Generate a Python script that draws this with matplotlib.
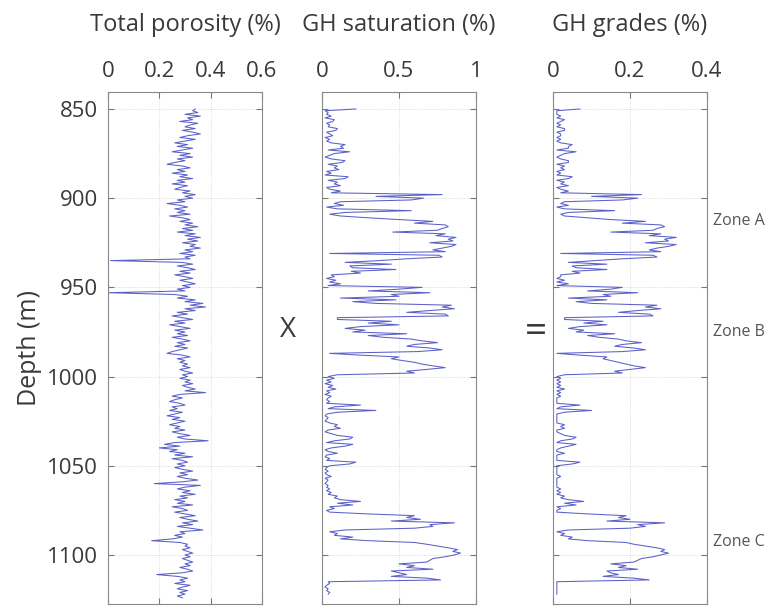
import numpy as np
import matplotlib.pyplot as plt

plt.rcParams['font.family'] = ['Open Sans', 'DejaVu Sans']

# porosity log, 1 m samples from 850 m
por_top = 850
porosity = [
    0.34, 0.33, 0.35, 0.30, 0.36, 0.31, 0.33, 0.28, 0.35, 0.32,
    0.30, 0.34, 0.29, 0.33, 0.36, 0.31, 0.28, 0.34, 0.30, 0.26,
    0.31, 0.27, 0.33, 0.29, 0.25, 0.32, 0.28, 0.33, 0.27, 0.30,
    0.26, 0.23, 0.29, 0.32, 0.27, 0.30, 0.25, 0.31, 0.28, 0.33,
    0.27, 0.30, 0.25, 0.31, 0.28, 0.26, 0.32, 0.29, 0.34, 0.30,
    0.33, 0.27, 0.30, 0.23, 0.28, 0.31, 0.26, 0.30, 0.27, 0.32,
    0.24, 0.29, 0.32, 0.28, 0.33, 0.30, 0.35, 0.29, 0.33, 0.27,
    0.34, 0.30, 0.36, 0.31, 0.35, 0.29, 0.34, 0.32, 0.36, 0.30,
    0.33, 0.28, 0.34, 0.30, 0.32, 0.01, 0.29, 0.33, 0.27, 0.31,
    0.34, 0.28, 0.32, 0.26, 0.30, 0.33, 0.28, 0.31, 0.34, 0.29,
    0.32, 0.27, 0.30, 0.00, 0.26, 0.31, 0.27, 0.34, 0.30, 0.37,
    0.32, 0.38, 0.30, 0.34, 0.27, 0.31, 0.25, 0.29, 0.33, 0.26,
    0.30, 0.24, 0.28, 0.32, 0.26, 0.30, 0.27, 0.31, 0.25, 0.29,
    0.32, 0.27, 0.30, 0.26, 0.31, 0.28, 0.25, 0.23, 0.29, 0.32,
    0.27, 0.30, 0.28, 0.31, 0.29, 0.32, 0.28, 0.30, 0.33, 0.29,
    0.31, 0.28, 0.32, 0.30, 0.33, 0.29, 0.31, 0.34, 0.30, 0.38,
    0.28, 0.25, 0.29, 0.26, 0.24, 0.28, 0.30, 0.25, 0.27, 0.24,
    0.29, 0.26, 0.23, 0.28, 0.25, 0.30, 0.27, 0.24, 0.28, 0.26,
    0.30, 0.25, 0.28, 0.32, 0.27, 0.30, 0.39, 0.26, 0.22, 0.28,
    0.20, 0.27, 0.24, 0.30, 0.26, 0.33, 0.25, 0.29, 0.31, 0.27,
    0.30, 0.26, 0.29, 0.33, 0.28, 0.31, 0.27, 0.30, 0.35, 0.29,
    0.18, 0.36, 0.30, 0.27, 0.32, 0.29, 0.34, 0.28, 0.31, 0.26,
    0.30, 0.27, 0.33, 0.25, 0.29, 0.31, 0.26, 0.30, 0.34, 0.28,
    0.31, 0.35, 0.29, 0.33, 0.27, 0.32, 0.37, 0.28, 0.30, 0.26,
    0.29, 0.25, 0.17, 0.28, 0.31, 0.30, 0.32, 0.29, 0.31, 0.33,
    0.30, 0.32, 0.29, 0.31, 0.33, 0.30, 0.32, 0.28, 0.31, 0.33,
    0.29, 0.19, 0.27, 0.31, 0.28, 0.30, 0.26, 0.32, 0.29, 0.27,
    0.31, 0.28, 0.30, 0.27, 0.29,
]

# GH saturation, 1 m samples from 850 m
sat_top = 850
saturation = [
    0.22, 0.02, 0.04, 0.03, 0.06, 0.02, 0.08, 0.07, 0.03, 0.05,
    0.04, 0.10, 0.09, 0.03, 0.05, 0.07, 0.02, 0.05, 0.03, 0.06,
    0.15, 0.12, 0.14, 0.04, 0.18, 0.08, 0.05, 0.02, 0.06, 0.15,
    0.13, 0.04, 0.10, 0.08, 0.11, 0.03, 0.06, 0.02, 0.17, 0.15,
    0.04, 0.10, 0.08, 0.12, 0.03, 0.05, 0.12, 0.06, 0.78, 0.35,
    0.66, 0.58, 0.12, 0.08, 0.14, 0.03, 0.10, 0.58, 0.15, 0.05,
    0.12, 0.30, 0.50, 0.72, 0.60, 0.80, 0.82, 0.78, 0.75, 0.46,
    0.80, 0.74, 0.87, 0.82, 0.85, 0.70, 0.87, 0.84, 0.78, 0.72,
    0.80, 0.05, 0.76, 0.78, 0.55, 0.37, 0.15, 0.45, 0.18, 0.20,
    0.48, 0.19, 0.25, 0.06, 0.08, 0.03, 0.09, 0.05, 0.12, 0.04,
    0.65, 0.50, 0.30, 0.70, 0.45, 0.50, 0.12, 0.48, 0.20, 0.35,
    0.84, 0.78, 0.86, 0.70, 0.55, 0.80, 0.82, 0.10, 0.10, 0.45,
    0.30, 0.50, 0.25, 0.15, 0.28, 0.20, 0.55, 0.30, 0.40, 0.58,
    0.65, 0.75, 0.60, 0.55, 0.70, 0.78, 0.62, 0.05, 0.25, 0.50,
    0.45, 0.52, 0.60, 0.65, 0.72, 0.80, 0.68, 0.55, 0.60, 0.10,
    0.04, 0.08, 0.03, 0.06, 0.02, 0.07, 0.04, 0.09, 0.03, 0.05,
    0.02, 0.06, 0.04, 0.03, 0.05, 0.03, 0.25, 0.08, 0.04, 0.35,
    0.10, 0.03, 0.02, 0.04, 0.03, 0.02, 0.05, 0.10, 0.08, 0.12,
    0.04, 0.02, 0.06, 0.10, 0.20, 0.18, 0.08, 0.03, 0.20, 0.15,
    0.06, 0.02, 0.04, 0.10, 0.03, 0.02, 0.05, 0.03, 0.22, 0.18,
    0.05, 0.03, 0.02, 0.04, 0.02, 0.03, 0.06, 0.02, 0.04, 0.03,
    0.02, 0.04, 0.03, 0.05, 0.03, 0.06, 0.04, 0.10, 0.08, 0.12,
    0.25, 0.10, 0.20, 0.05, 0.08, 0.03, 0.05, 0.30, 0.60, 0.55,
    0.64, 0.45, 0.86, 0.70, 0.72, 0.60, 0.15, 0.05, 0.10, 0.08,
    0.20, 0.12, 0.30, 0.60, 0.68, 0.75, 0.82, 0.88, 0.85, 0.90,
    0.86, 0.80, 0.72, 0.70, 0.68, 0.50, 0.60, 0.55, 0.72, 0.45,
    0.50, 0.55, 0.45, 0.68, 0.77, 0.04, 0.05, 0.03, 0.02, 0.04,
    0.03, 0.05, 0.04,
]

# GH grades, same depth samples as saturation
grades = [
    0.07, 0.01, 0.01, 0.01, 0.02, 0.01, 0.03, 0.02, 0.01, 0.02,
    0.01, 0.03, 0.03, 0.01, 0.02, 0.02, 0.01, 0.02, 0.01, 0.02,
    0.05, 0.04, 0.04, 0.01, 0.06, 0.03, 0.02, 0.01, 0.02, 0.04,
    0.04, 0.01, 0.03, 0.02, 0.03, 0.01, 0.02, 0.01, 0.05, 0.04,
    0.01, 0.03, 0.02, 0.04, 0.01, 0.02, 0.04, 0.02, 0.23, 0.10,
    0.22, 0.18, 0.03, 0.02, 0.04, 0.01, 0.03, 0.16, 0.04, 0.02,
    0.03, 0.09, 0.15, 0.24, 0.18, 0.28, 0.29, 0.27, 0.26, 0.15,
    0.28, 0.25, 0.32, 0.29, 0.30, 0.24, 0.32, 0.30, 0.27, 0.25,
    0.28, 0.02, 0.26, 0.27, 0.18, 0.11, 0.04, 0.14, 0.05, 0.06,
    0.14, 0.05, 0.07, 0.02, 0.02, 0.01, 0.03, 0.01, 0.04, 0.01,
    0.18, 0.15, 0.09, 0.22, 0.13, 0.15, 0.04, 0.14, 0.06, 0.10,
    0.27, 0.24, 0.28, 0.22, 0.17, 0.25, 0.26, 0.03, 0.03, 0.13,
    0.08, 0.14, 0.07, 0.04, 0.08, 0.06, 0.16, 0.09, 0.12, 0.17,
    0.19, 0.23, 0.18, 0.16, 0.21, 0.24, 0.18, 0.01, 0.07, 0.14,
    0.13, 0.15, 0.17, 0.19, 0.21, 0.24, 0.20, 0.16, 0.18, 0.03,
    0.01, 0.02, 0.01, 0.02, 0.01, 0.02, 0.01, 0.03, 0.01, 0.02,
    0.01, 0.02, 0.01, 0.01, 0.01, 0.01, 0.07, 0.02, 0.01, 0.10,
    0.03, 0.01, 0.01, 0.01, 0.01, 0.01, 0.01, 0.03, 0.02, 0.03,
    0.01, 0.01, 0.02, 0.03, 0.06, 0.05, 0.02, 0.01, 0.06, 0.04,
    0.02, 0.01, 0.01, 0.03, 0.01, 0.01, 0.01, 0.01, 0.07, 0.05,
    0.01, 0.01, 0.01, 0.01, 0.01, 0.01, 0.02, 0.01, 0.01, 0.01,
    0.01, 0.01, 0.01, 0.02, 0.01, 0.02, 0.01, 0.03, 0.02, 0.04,
    0.08, 0.03, 0.06, 0.01, 0.02, 0.01, 0.01, 0.09, 0.19, 0.17,
    0.20, 0.14, 0.29, 0.22, 0.24, 0.20, 0.04, 0.01, 0.03, 0.02,
    0.05, 0.04, 0.09, 0.19, 0.21, 0.24, 0.27, 0.29, 0.28, 0.30,
    0.28, 0.26, 0.23, 0.22, 0.21, 0.15, 0.19, 0.17, 0.22, 0.14,
    0.15, 0.17, 0.13, 0.21, 0.25, 0.01, 0.01, 0.01, 0.01, 0.01,
    0.01, 0.01, 0.01,
]

titles = ['Total porosity (%)', 'GH saturation (%)', 'GH grades (%)']
xlims = [0.6, 1.0, 0.4]
xticks = [[0, 0.2, 0.4, 0.6], [0, 0.5, 1], [0, 0.2, 0.4]]
xticklabels = [['0', '0.2', '0.4', '0.6'], ['0', '0.5', '1'], ['0', '0.2', '0.4']]
depth_ticks = [850, 900, 950, 1000, 1050, 1100]
zones = ['Zone A', 'Zone B', 'Zone C']
zone_depths = [913, 975, 1093]

por_depth = por_top + np.arange(len(porosity))
sat_depth = sat_top + np.arange(len(saturation))
series = [(porosity, por_depth), (saturation, sat_depth), (grades, sat_depth)]

line_col = '#5a60c8'
txt_col = '#3a3a3a'

fig = plt.figure(figsize=(7.69, 6.09), dpi=100)
lefts = [0.1404, 0.4187, 0.7191]
axes = []
for i in range(3):
    ax = fig.add_axes([lefts[i], 0.0082, 0.2003, 0.8407])
    vals, dep = series[i]
    ax.plot(vals, dep, color=line_col, lw=0.75)
    ax.set_xlim(0, xlims[i])
    ax.set_ylim(1127.5, 840.5)
    ax.set_xticks(xticks[i])
    ax.set_xticklabels(xticklabels[i])
    ax.set_yticks(depth_ticks)
    ax.tick_params(direction='in', top=True, bottom=True, left=True, right=True,
                   labeltop=True, labelbottom=False, labelleft=(i == 0),
                   length=4, width=0.8, color='#777777', labelsize=16,
                   labelcolor=txt_col, pad=7)
    ax.grid(True, ls=':', lw=0.6, color='#d0d0d0')
    for s in ax.spines.values():
        s.set_color('#888888')
        s.set_linewidth(0.8)
    fig.text(lefts[i] + 0.2003 / 2, 1 - 25 / 609, titles[i], fontsize=17,
             color=txt_col, ha='center', va='center')
    axes.append(ax)

axes[0].set_ylabel('Depth (m)', fontsize=18, color=txt_col, labelpad=4)

fig.text(288 / 769, 1 - 330 / 609, 'X', fontsize=20, color=txt_col, ha='center', va='center')
fig.text(536 / 769, 1 - 332 / 609, '=', fontsize=28, color=txt_col, ha='center', va='center')

for z, d in zip(zones, zone_depths):
    axes[2].text(1.04, d, z, transform=axes[2].get_yaxis_transform(),
                 fontsize=11.5, color='#555555', ha='left', va='center')

fig.savefig('out.png', dpi=100)
